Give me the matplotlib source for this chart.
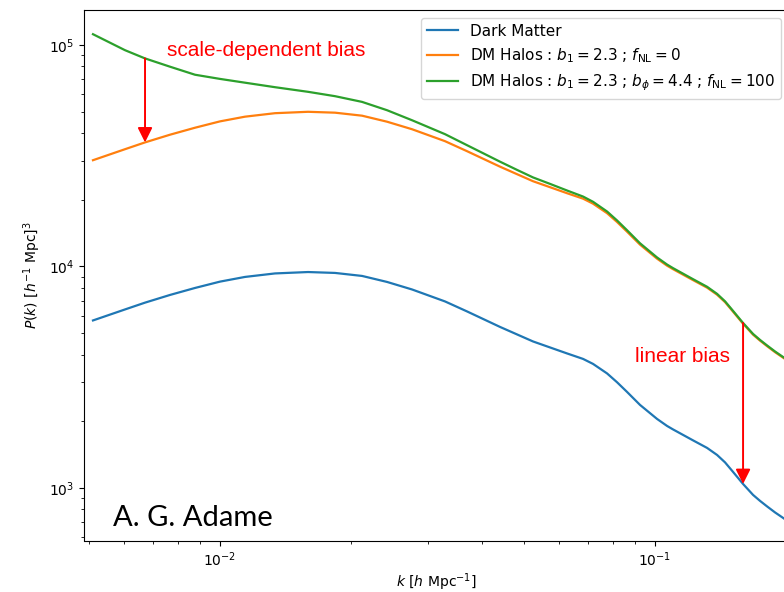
import numpy as np
import matplotlib
matplotlib.use("Agg")
import matplotlib.pyplot as plt

# k in h/Mpc
k = [0.005105, 0.006048, 0.006724, 0.007674, 0.008760, 0.0100, 0.011415,
     0.013379, 0.015935, 0.018385, 0.021210, 0.024211, 0.027636, 0.032904,
     0.036966, 0.040233, 0.044024, 0.048173, 0.052418, 0.057358, 0.062762,
     0.068314, 0.072031, 0.077580, 0.081784, 0.086228, 0.092363, 0.10107,
     0.10656, 0.11000, 0.12232, 0.13170, 0.13886, 0.14486, 0.15113,
     0.15934, 0.16800, 0.17433, 0.18097, 0.18876, 0.19700, 0.20000]

p_dm = [5704, 6395, 6864, 7435, 7995, 8540, 8967,
        9299, 9435, 9347, 9060, 8511, 7870, 6950,
        6265, 5794, 5332, 4932, 4585, 4308, 4048,
        3824, 3630, 3288, 3000, 2713, 2370, 2049,
        1905, 1837, 1639, 1516, 1409, 1304, 1181,
        1042, 930, 874, 825, 775, 732, 717]

p_halo = [30170, 33830, 36310, 39330, 42290, 45180, 47440,
          49190, 49910, 49450, 47930, 45020, 41630, 36770,
          33140, 30650, 28210, 26090, 24250, 22790, 21410,
          20230, 19200, 17390, 15870, 14350, 12540, 10840,
          10080, 9718, 8670, 8020, 7454, 6898, 6247,
          5512, 4920, 4623, 4364, 4100, 3872, 3793]

p_halo_fnl = [111810, 94690, 86930, 79760, 73370, 70250, 67540,
              64450, 61430, 58700, 55320, 50730, 45710, 39550,
              35270, 32460, 29710, 27280, 25230, 23590, 22020,
              20680, 19580, 17700, 16130, 14570, 12720, 10980,
              10200, 9825, 8756, 8095, 7520, 6957, 6299,
              5556, 4958, 4658, 4397, 4130, 3899, 3820]

labels = [
    "Dark Matter",
    r"DM Halos : $b_1 = 2.3$ ; $f_{\rm NL} = 0$",
    r"DM Halos : $b_1 = 2.3$ ; $b_\phi = 4.4$ ; $f_{\rm NL} = 100$",
]

fig = plt.figure(figsize=(7.84, 5.92), dpi=100)
# right edge of the axes lies just outside the picture (cropped figure)
ax = fig.add_axes([84 / 784, 1 - 540.5 / 592, 705 / 784, 530.5 / 592])

ax.plot(k, p_dm, color="#1f77b4", lw=1.6, label=labels[0])
ax.plot(k, p_halo, color="#ff7f0e", lw=1.6, label=labels[1])
ax.plot(k, p_halo_fnl, color="#2ca02c", lw=1.6, label=labels[2])

ax.set_xscale("log")
ax.set_yscale("log")
ax.set_xlim(0.004868, 0.2032)
ax.set_ylim(579, 1.438e5)

ax.set_xlabel(r"$k\ \left[h\ \mathrm{Mpc}^{-1}\right]$", fontsize=10, labelpad=2)
ax.set_ylabel(r"$P(k)\ \left[h^{-1}\ \mathrm{Mpc}\right]^3$", fontsize=10)
ax.tick_params(labelsize=10)

ax.legend(loc="upper right", fontsize=11)

# arrows between curves
arrow = dict(arrowstyle="-|>", color="red", lw=1.4, mutation_scale=22,
             shrinkA=0, shrinkB=0)
i1 = 2
ax.annotate("", xy=(k[i1], p_halo[i1]), xytext=(k[i1], p_halo_fnl[i1]),
            arrowprops=arrow)
i2 = 35
ax.annotate("", xy=(k[i2], p_dm[i2]), xytext=(k[i2], p_halo_fnl[i2]),
            arrowprops=arrow)

ax.text(167 / 784, 1 - 50 / 592, "scale-dependent bias", transform=fig.transFigure,
        color="red", fontsize=15, family="Liberation Sans", va="center")
ax.text(635 / 784, 1 - 356 / 592, "linear bias", transform=fig.transFigure,
        color="red", fontsize=15, family="Liberation Sans", va="center")
ax.text(113 / 784, 1 - 518 / 592, "A. G. Adame", transform=fig.transFigure,
        color="black", fontsize=21, family="Lato", va="center")

fig.savefig("out.png", dpi=100)
